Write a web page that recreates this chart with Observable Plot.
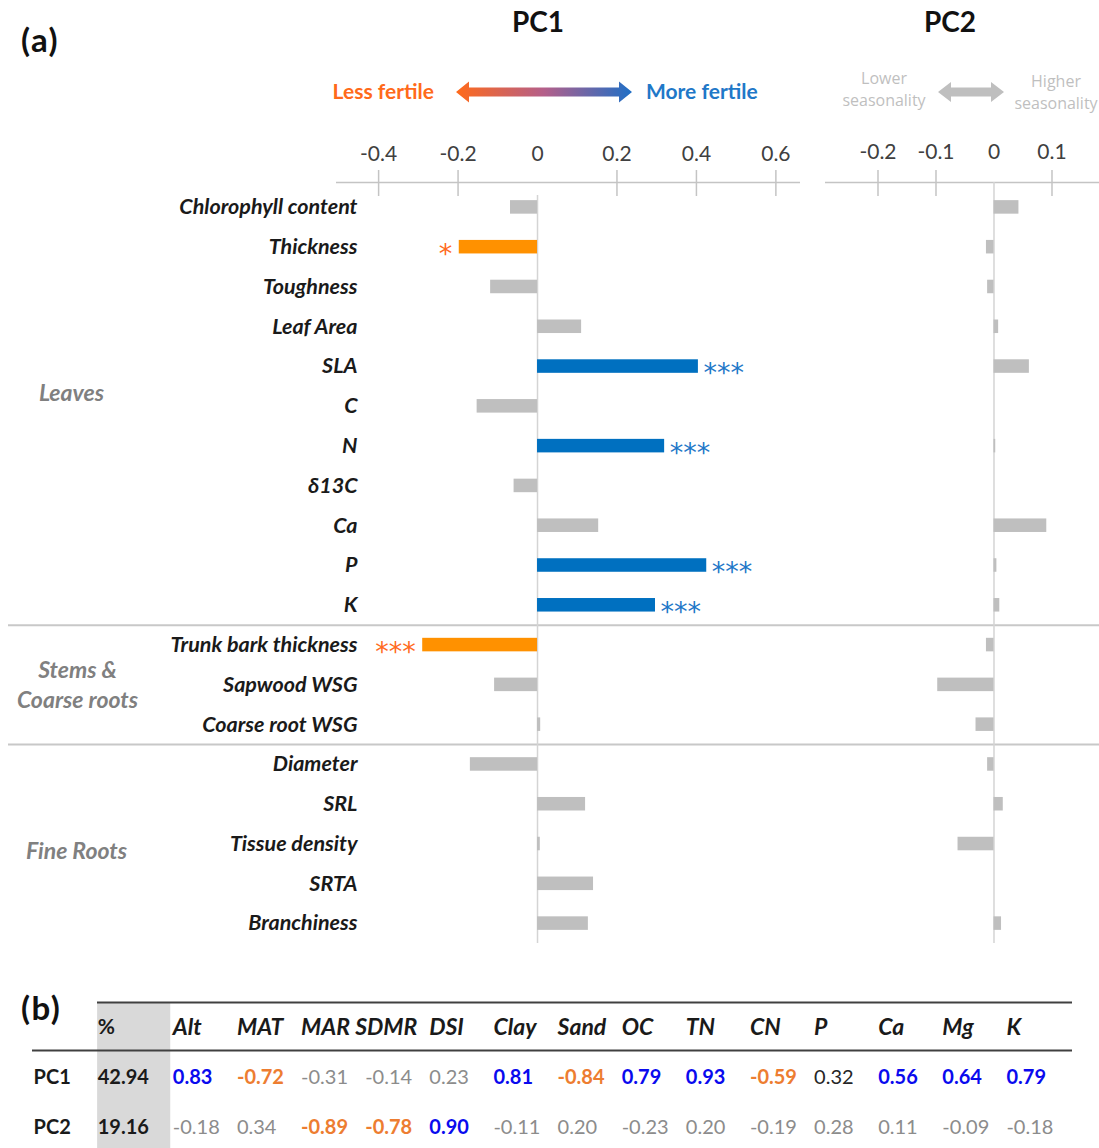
<!DOCTYPE html>
<html>
<head>
<meta charset="utf-8">
<script src="https://cdn.jsdelivr.net/npm/d3@7"></script>
<script src="https://cdn.jsdelivr.net/npm/@observablehq/plot@0.6"></script>
<style>
  html, body { margin: 0; padding: 0; background: #fff; }
  #wrap { position: relative; width: 1099px; height: 1148px; overflow: hidden; background: #fff; }
  #wrap > svg { position: absolute; left: 0; top: 0; }
</style>
</head>
<body>
<div id="wrap"></div>
<script>
// ---------------- data: panel (a) ----------------
const traits = ["Chlorophyll content","Thickness","Toughness","Leaf Area","SLA","C","N","δ13C","Ca","P","K",
  "Trunk bark thickness","Sapwood WSG","Coarse root WSG",
  "Diameter","SRL","Tissue density","SRTA","Branchiness"];
const pc1 = [-0.068,-0.197,-0.118,0.111,0.405,-0.152,0.320,-0.059,0.154,0.426,0.297,
  -0.289,-0.108,0.008,
  -0.169,0.121,0.007,0.141,0.128];
const pc2 = [0.043,-0.013,-0.011,0.008,0.061,0,0.003,0,0.091,0.005,0.010,
  -0.013,-0.097,-0.031,
  -0.011,0.016,-0.062,0,0.013];
const signif = ["","*","","","***","","***","","","***","***",
  "***","","",
  "","","","",""];
const groupNames = ["Leaves","Stems &\nCoarse roots","Fine Roots"];
const groupAnchors = ["C","Sapwood WSG","Tissue density"];
const separatorsBefore = ["Trunk bark thickness","Diameter"];
const pc1Ticks = [-0.4,-0.2,0,0.2,0.4,0.6];
const pc2Ticks = [-0.2,-0.1,0,0.1];
const pc1Domain = [-0.506, 0.662];
const pc2Domain = [-0.2905, 0.1819];

// ---------------- data: panel (b) ----------------
const tabCols = ["Alt","MAT","MAR","SDMR","DSI","Clay","Sand","OC","TN","CN","P","Ca","Mg","K"];
const pcRows = ["PC1","PC2"];
const pctVar = [42.94, 19.16];
const pc1Env = [0.83,-0.72,-0.31,-0.14,0.23,0.81,-0.84,0.79,0.93,-0.59,0.32,0.56,0.64,0.79];
const pc2Env = [-0.18,0.34,-0.89,-0.78,0.90,-0.11,0.20,-0.23,0.20,-0.19,0.28,0.11,-0.09,-0.18];
const pc1Tone = ["pos","neg","ns","ns","ns","pos","neg","pos","pos","neg","plain","pos","pos","pos"];
const pc2Tone = ["ns","ns","neg","neg","pos","ns","ns","ns","ns","ns","ns","ns","ns","ns"];

// ---------------- styling ----------------
const ORANGE = "#ff9100", BLUE = "#0070c0", GRAY = "#bfbfbf";
const STAR_OR = "#ff6a21", STAR_BL = "#1f78c8";
const toneColor = {pos: "#0a0aee", neg: "#ed7d31", ns: "#8c8c8c", plain: "#262626"};
const FONT = "Lato, 'Open Sans', sans-serif";
const W = 1099, H = 960, yTop = 187, yBot = 943;
const step = (yBot - yTop) / traits.length;
const firstCenter = yTop + step * 0.33 + step * 0.34 / 2;

const rows = traits.map((t, i) => ({trait: t, pc1: pc1[i], pc2: pc2[i], sig: signif[i]}));
const barColor = d => d.sig ? (d.pc1 < 0 ? ORANGE : BLUE) : GRAY;
const fmtTick = v => v === 0 ? "0" : (v < 0 ? "-" : "") + Math.abs(v).toFixed(1);
const fmtVal = v => (v < 0 ? "-" : "") + Math.abs(v).toFixed(2);
const yScale = {domain: traits, paddingInner: 0.66, paddingOuter: 0.33, round: false, axis: null};
const base = {
  width: W, height: H, marginTop: yTop, marginBottom: H - yBot,
  style: {background: "transparent", overflow: "visible", fontFamily: FONT}
};
const STAR_FONT = "'DejaVu Sans', sans-serif";

const wrap = document.getElementById("wrap");

// ---- background layer: separators & group labels ----
const groupStyle = {textAnchor: "middle", lineHeight: 1.3, fontStyle: "italic", fontWeight: "bold", fontSize: 23, fill: "#808080"};
const layer0 = Plot.plot({
  ...base, marginLeft: 8, marginRight: 0,
  y: yScale,
  marks: [
    Plot.ruleY(separatorsBefore, {y: d => d, dy: -step / 2, stroke: "#c8c8c8", strokeWidth: 2}),
    Plot.text([groupNames[0]], {y: () => groupAnchors[0], text: d => d, frameAnchor: "left", dx: 63, dy: -15, ...groupStyle}),
    Plot.text([groupNames[1]], {y: () => groupAnchors[1], text: d => d, frameAnchor: "left", dx: 69, dy: -1, ...groupStyle}),
    Plot.text([groupNames[2]], {y: () => groupAnchors[2], text: d => d, frameAnchor: "left", dx: 68, dy: 5, ...groupStyle})
  ]
});
wrap.append(layer0);

// ---- PC1 panel ----
const p1 = Plot.plot({
  ...base, marginLeft: 336, marginRight: W - 800,
  x: {domain: pc1Domain, axis: null},
  y: yScale,
  marks: [
    Plot.ruleY([traits[0]], {y: d => d, dy: -(firstCenter - 182), stroke: "#c4c4c4", strokeWidth: 1.5}),
    Plot.ruleX(pc1Ticks.filter(d => d !== 0), {x: d => d, insetTop: -17, insetBottom: yBot - 196, stroke: "#c4c4c4", strokeWidth: 1.5}),
    Plot.text(pc1Ticks, {x: d => d, text: fmtTick, frameAnchor: "top", lineAnchor: "middle", dy: -33, fontSize: 21, fill: "#404040"}),
    Plot.ruleX([0], {insetTop: 8, stroke: "#d4d4d4", strokeWidth: 1.5}),
    Plot.barX(rows, {x: "pc1", y: "trait", fill: barColor}),
    Plot.text(rows.filter(d => d.sig && d.pc1 > 0), {x: "pc1", y: "trait", text: "sig",
      textAnchor: "start", dx: 5, dy: 7, fontFamily: STAR_FONT, fontSize: 27, fill: STAR_BL}),
    Plot.text(rows.filter(d => d.sig && d.pc1 < 0), {x: "pc1", y: "trait", text: "sig",
      textAnchor: "end", dx: -7, dy: 7, fontFamily: STAR_FONT, fontSize: 27, fill: STAR_OR}),
    Plot.text(traits, {y: d => d, text: d => d, frameAnchor: "left", dx: 21, textAnchor: "end",
      fontStyle: "italic", fontWeight: "bold", fontSize: 21.5, fill: "#1a1a1a"})
  ]
});
wrap.append(p1);

// ---- PC2 panel ----
const p2 = Plot.plot({
  ...base, marginLeft: 825, marginRight: 0,
  x: {domain: pc2Domain, axis: null},
  y: yScale,
  marks: [
    Plot.ruleY([traits[0]], {y: d => d, dy: -(firstCenter - 182), stroke: "#c4c4c4", strokeWidth: 1.5}),
    Plot.ruleX(pc2Ticks.filter(d => d !== 0), {x: d => d, insetTop: -17, insetBottom: yBot - 196, stroke: "#c4c4c4", strokeWidth: 1.5}),
    Plot.text(pc2Ticks, {x: d => d, text: fmtTick, frameAnchor: "top", lineAnchor: "middle", dy: -35, fontSize: 21, fill: "#404040"}),
    Plot.ruleX([0], {insetTop: -5, stroke: "#d4d4d4", strokeWidth: 1.5}),
    Plot.barX(rows, {x: "pc2", y: "trait", fill: GRAY})
  ]
});
wrap.append(p2);

// ---- table (b) ----
const xCols = ["row", "%", ...tabCols];
const cells = [];
pcRows.forEach((r, ri) => {
  const vals = ri === 0 ? pc1Env : pc2Env;
  const tones = ri === 0 ? pc1Tone : pc2Tone;
  tabCols.forEach((c, ci) => cells.push({row: r, col: c, v: vals[ci], tone: tones[ci]}));
});
const bold = d => d.tone === "pos" || d.tone === "neg";
const headStyle = {textAnchor: "start", fontWeight: "bold", fontStyle: "italic", fontSize: 23, fill: "#1a1a1a"};
const tab = Plot.plot({
  width: W, height: 1152, marginTop: 1002, marginBottom: 0, marginLeft: 44, marginRight: 29,
  style: {background: "transparent", overflow: "visible", fontFamily: FONT},
  x: {domain: xCols, padding: 0, round: false, axis: null},
  y: {domain: ["head", ...pcRows], padding: 0, round: false, axis: null},
  marks: [
    Plot.cell(["head", ...pcRows], {x: () => "%", y: d => d, fill: "#d9d9d9", insetLeft: -11, insetRight: 2}),
    Plot.ruleY(["head"], {y: d => d, dy: -25, insetLeft: 53, insetRight: -2, stroke: "#404040", strokeWidth: 2}),
    Plot.ruleY(["head"], {y: d => d, dy: 23, insetLeft: -12, insetRight: -2, stroke: "#404040", strokeWidth: 2}),
    Plot.text(["%"], {x: d => d, y: () => "head", text: d => d, dx: -43, textAnchor: "start",
      fontWeight: "bold", fontSize: 21, fill: "#1a1a1a"}),
    Plot.text(tabCols.filter(c => c !== "SDMR"), {x: d => d, y: () => "head", text: d => d, dx: -32, ...headStyle}),
    Plot.text(["SDMR"], {x: d => d, y: () => "head", text: d => d, dx: -42, ...headStyle}),
    Plot.text(pcRows, {x: () => "row", y: d => d, text: d => d, dx: -43, textAnchor: "start",
      fontWeight: "bold", fontSize: 20, fill: "#1a1a1a"}),
    Plot.text(pcRows, {x: () => "%", y: d => d, text: (d, i) => pctVar[i].toFixed(2), dx: -43, textAnchor: "start",
      fontWeight: "bold", fontSize: 20, fill: "#1a1a1a"}),
    Plot.text(cells.filter(bold), {x: "col", y: "row", text: d => fmtVal(d.v), dx: -32, textAnchor: "start",
      fontWeight: "bold", fontSize: 20, fill: d => toneColor[d.tone]}),
    Plot.text(cells.filter(d => !bold(d)), {x: "col", y: "row", text: d => fmtVal(d.v), dx: -32, textAnchor: "start",
      fontSize: 20, fill: d => toneColor[d.tone]})
  ]
});
wrap.append(tab);

// ---- annotations (titles, panel letters, direction arrows) ----
const ns = "http://www.w3.org/2000/svg";
const ann = d3.create("svg").attr("xmlns", ns).attr("width", W).attr("height", 1148)
  .style("font-family", FONT).style("overflow", "visible");
const defs = ann.append("defs");
const grad = defs.append("linearGradient").attr("id", "fert").attr("x1", "0").attr("x2", "1").attr("y1", "0").attr("y2", "0");
grad.append("stop").attr("offset", "0").attr("stop-color", "#ff6a1a");
grad.append("stop").attr("offset", "0.5").attr("stop-color", "#b45f8a");
grad.append("stop").attr("offset", "1").attr("stop-color", "#1f6fc6");
ann.append("text").attr("x", 21).attr("y", 52).attr("font-size", 33).attr("font-weight", "bold").attr("letter-spacing", 1.5).attr("fill", "#111").text("(a)");
ann.append("text").attr("x", 21).attr("y", 1020).attr("font-size", 33).attr("font-weight", "bold").attr("letter-spacing", 1.5).attr("fill", "#111").text("(b)");
ann.append("text").attr("x", 538).attr("y", 32).attr("text-anchor", "middle").attr("font-size", 28).attr("font-weight", "bold").attr("fill", "#111").text("PC1");
ann.append("text").attr("x", 950).attr("y", 32).attr("text-anchor", "middle").attr("font-size", 28).attr("font-weight", "bold").attr("fill", "#111").text("PC2");
ann.append("text").attr("x", 434).attr("y", 99).attr("text-anchor", "end").attr("font-size", 21).attr("font-weight", "bold").attr("fill", "#ff6a1a").text("Less fertile");
ann.append("text").attr("x", 646).attr("y", 99).attr("font-size", 21).attr("font-weight", "bold").attr("fill", "#1f78c8").text("More fertile");
const dbl = (x0, x1, cy, head, hh, sh) =>
  `M${x0},${cy} L${x0+head},${cy-hh} L${x0+head},${cy-sh} L${x1-head},${cy-sh} L${x1-head},${cy-hh} L${x1},${cy} L${x1-head},${cy+hh} L${x1-head},${cy+sh} L${x0+head},${cy+sh} L${x0+head},${cy+hh} Z`;
ann.append("path").attr("d", dbl(456, 632, 92, 13, 10.5, 4.5)).attr("fill", "url(#fert)");
ann.append("path").attr("d", dbl(938, 1004, 92, 13, 10, 4.5)).attr("fill", "#bfbfbf");
const seas = [["Lower", 884, 84], ["seasonality", 884, 106], ["Higher", 1056, 87], ["seasonality", 1056, 109]];
seas.forEach(([t, x, y]) => ann.append("text").attr("x", x).attr("y", y).attr("text-anchor", "middle")
  .attr("font-family", "'Open Sans', sans-serif").attr("font-size", 16).attr("fill", "#bfbfbf").text(t));
wrap.append(ann.node());
</script>
</body>
</html>
